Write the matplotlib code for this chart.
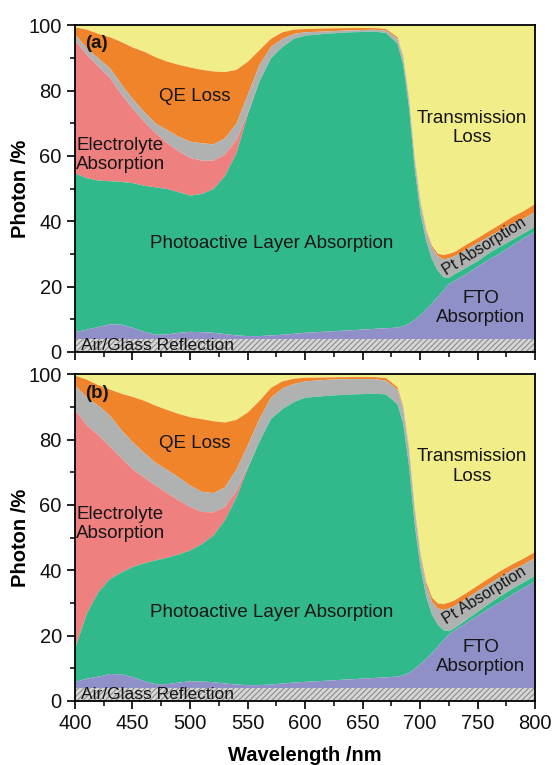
import numpy as np
import matplotlib
matplotlib.use("Agg")
import matplotlib.pyplot as plt
from matplotlib.ticker import MultipleLocator

plt.rcParams['font.family'] = ['Liberation Sans', 'DejaVu Sans']
plt.rcParams['hatch.linewidth'] = 0.8

# wavelength grid (nm)
wl = [400, 410, 420, 430, 440, 450, 460, 470, 480, 490, 500, 510, 520, 530, 540, 550,
      560, 570, 580, 590, 600, 620, 640, 660, 670, 680, 685, 690, 695, 700, 705, 710,
      715, 720, 725, 730, 740, 750, 760, 770, 780, 790, 800]

# cumulative upper edges (%) of each layer, panel (a)
air_top = 4
fto_a = [6.2, 7, 7.8, 8.6, 8.5, 7.5, 6.3, 5.4, 5.5, 6, 6.3, 6.2, 6, 5.6, 5.2, 5,
         5, 5.2, 5.4, 5.7, 6, 6.4, 6.8, 7.2, 7.4, 7.6, 8, 8.8, 10, 11.5, 13.2, 15,
         17, 19, 21, 22, 24, 26.3, 28.5, 30.5, 32.8, 35, 37]
photo_a = [54.7, 53.3, 52.6, 52.4, 52.2, 51.8, 51, 50.5, 50, 49, 48, 48.5, 50, 54, 61, 73,
           83, 90, 93.5, 96, 97, 97.6, 98, 98.2, 97.8, 94.5, 88, 75, 56, 42.4, 34, 28.5,
           25, 23, 22.8, 24, 26, 28, 30.5, 32.5, 34.5, 36.5, 38.5]
# electrolyte edge until it merges with photoactive layer (~550 nm)
elec_a = [95.4, 91, 87.5, 84, 79, 74.5, 70.5, 67, 64, 61.5, 59.5, 58.7, 58.7, 60.5, 65, 73.5]
pt_a = [97.2, 93, 90, 87, 82, 77.5, 73.5, 70, 68, 66, 64.5, 64, 63.7, 65.5, 70, 79,
        88, 93.5, 96, 97.5, 98, 98.3, 98.6, 98.8, 98.5, 96, 90, 77.5, 59, 45.5, 37, 32,
        29.5, 28.5, 28.8, 29.5, 31.5, 33.5, 35.5, 37.5, 39.5, 41, 43]
qe_a = [99.5, 98.8, 97.5, 96.5, 95, 93.3, 92, 90.3, 89, 88, 87.2, 86.5, 86, 85.8, 86.5, 89,
        92.5, 96, 98, 98.8, 99, 99.2, 99.3, 99.3, 99, 96.5, 90.6, 78, 59.6, 46, 37.5, 32.6,
        30.2, 29.8, 30.2, 30.8, 33, 35, 37.2, 39.3, 41.5, 43.3, 45.5]

# panel (b)
fto_b = [6, 7, 7.6, 8.4, 8.3, 7.4, 6.2, 5.3, 5.3, 5.8, 6.2, 6.1, 5.9, 5.5, 5.2, 5,
         5, 5.2, 5.5, 5.8, 6, 6.4, 6.8, 7.2, 7.4, 7.6, 8, 8.8, 10, 11.5, 13, 14.8,
         16.8, 18.8, 20.6, 21.8, 24, 26.3, 28.5, 30.5, 32.8, 34.8, 36.8]
photo_b = [16.5, 27, 33.5, 37.5, 39.5, 41.2, 42.3, 43.2, 44, 45, 46.3, 48.2, 50.8, 55.5, 62.5, 71.5,
           79.5, 86.5, 89.5, 91.7, 93, 93.6, 94, 94.2, 94, 91, 85, 72, 54, 41, 32, 26.5,
           23.5, 21.8, 21.5, 22.5, 25, 27.5, 30, 32.3, 34.5, 36.5, 38.5]
elec_b = [89, 84.5, 81.5, 78, 74.5, 71, 68.5, 66, 63.7, 61.5, 59.5, 58, 57.9, 59.5, 64.5, 72]
pt_b = [96.6, 93, 90.5, 87.5, 83, 79.3, 76, 73, 70.8, 68.5, 66, 64.2, 63.8, 65.5, 71, 78.5,
        86.5, 93, 95.8, 97.2, 98, 98.5, 98.7, 98.7, 98.2, 95.5, 89.5, 77, 58.5, 44.5, 35.5, 30.5,
        28.5, 28, 28.5, 29.3, 31.5, 33.8, 36, 38.2, 40.3, 42, 44]
qe_b = [99.7, 98.5, 96.8, 95.5, 94.2, 93.2, 92, 90.5, 89.2, 88, 87, 86.4, 85.8, 85.4, 86.2, 88.5,
        92, 96, 98, 98.8, 99.1, 99.2, 99.3, 99.3, 99, 96.2, 90.2, 77.6, 59.2, 45.2, 36.5, 31.8,
        30, 29.8, 30.3, 31, 33.2, 35.5, 37.8, 40, 42, 43.8, 45.8]

c_air = '#d6d6d6'
c_fto = '#9090c8'
c_photo = '#31b98b'
c_elec = '#ef8080'
c_pt = '#b0b2b1'
c_qe = '#ef842b'
c_trans = '#f1ee8a'
txt = '#151515'


def draw_panel(ax, fto, photo, elec, pt, qe, tag, lab_y):
    x = np.array(wl)
    fto = np.array(fto)
    photo = np.array(photo)
    elec = np.concatenate([elec, photo[len(elec):]])
    pt = np.array(pt)
    qe = np.array(qe)
    zero = np.zeros_like(x, dtype=float)
    air = np.full_like(x, air_top, dtype=float)
    ax.fill_between(x, qe, 100, color=c_trans, lw=0)
    ax.fill_between(x, pt, qe, color=c_qe, lw=0)
    ax.fill_between(x, elec, pt, color=c_pt, lw=0)
    ax.fill_between(x, photo, elec, color=c_elec, lw=0)
    ax.fill_between(x, fto, photo, color=c_photo, lw=0)
    ax.fill_between(x, air, fto, color=c_fto, lw=0)
    ax.fill_between(x, zero, air, facecolor=c_air, edgecolor='#8c8c8c', hatch='//////', lw=0)

    ax.set_xlim(400, 800)
    ax.set_ylim(0, 100)
    ax.xaxis.set_major_locator(MultipleLocator(50))
    ax.xaxis.set_minor_locator(MultipleLocator(25))
    ax.yaxis.set_major_locator(MultipleLocator(20))
    ax.yaxis.set_minor_locator(MultipleLocator(10))
    ax.tick_params(which='major', direction='out', length=6, width=1.3, labelsize=14.5,
                   colors='#111111')
    ax.tick_params(which='minor', direction='out', length=3.5, width=1.1)
    for s in ax.spines.values():
        s.set_linewidth(1.3)
    ax.set_ylabel('Photon /%', fontsize=14.5, fontweight='bold', labelpad=-1)

    fs = 13.5
    ax.text(409, lab_y['tag'], tag, fontsize=13.5, fontweight='bold', color=txt, va='center')
    ax.text(504, lab_y['qe'], 'QE Loss', fontsize=fs, color=txt, ha='center', va='center')
    ax.text(401, lab_y['elec'], 'Electrolyte\nAbsorption', fontsize=fs, color=txt,
            ha='left', va='center', linespacing=1.2)
    ax.text(571, lab_y['photo'], 'Photoactive Layer Absorption', fontsize=fs, color=txt,
            ha='center', va='center')
    ax.text(745, lab_y['trans'], 'Transmission\nLoss', fontsize=fs, color=txt,
            ha='center', va='center', linespacing=1.2)
    ax.text(753, 13.5, 'FTO\nAbsorption', fontsize=fs, color=txt,
            ha='center', va='center', linespacing=1.2)
    ax.text(756, lab_y['pt'], 'Pt Absorption', fontsize=11.5, color=txt,
            ha='center', va='center', rotation=32, rotation_mode='anchor')
    ax.text(405, 1.9, 'Air/Glass Reflection', fontsize=12.5, color=txt, ha='left', va='center')


fig = plt.figure(figsize=(5.53, 7.65), dpi=100)
ax1 = fig.add_axes([0.1356, 0.540, 0.8319, 0.427])
ax2 = fig.add_axes([0.1356, 0.0837, 0.8319, 0.427])

draw_panel(ax1, fto_a, photo_a, elec_a, pt_a, qe_a, '(a)',
           {'tag': 94.5, 'qe': 78.3, 'elec': 60.3, 'photo': 33.3, 'trans': 68.5, 'pt': 32.2})
draw_panel(ax2, fto_b, photo_b, elec_b, pt_b, qe_b, '(b)',
           {'tag': 94, 'qe': 78.9, 'elec': 54.2, 'photo': 27.2, 'trans': 71.8, 'pt': 32.4})

ax1.tick_params(labelbottom=False)
ax2.set_xlabel('Wavelength /nm', fontsize=14.5, fontweight='bold', labelpad=9)

fig.savefig('out.png', dpi=100)
